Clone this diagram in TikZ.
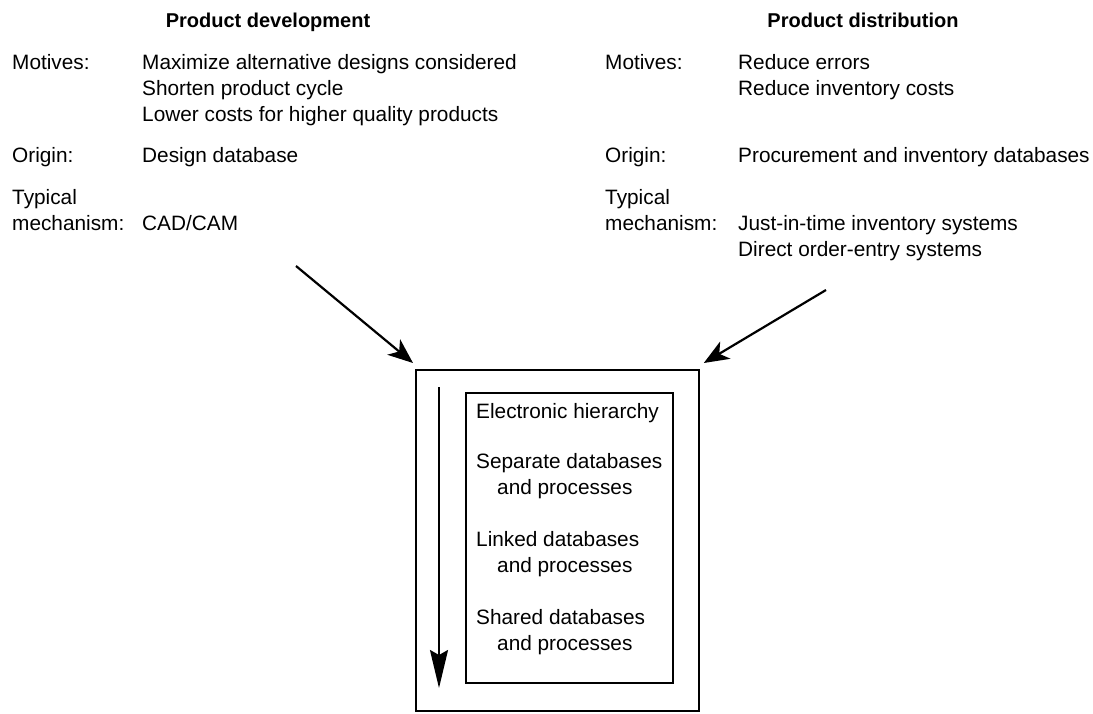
\documentclass[tikz,border=0pt]{standalone}
\usepackage{fontspec}
\setmainfont{Liberation Sans}
\usetikzlibrary{arrows.meta}
\begin{document}
\begin{tikzpicture}[x=1pt,y=-1pt,
  txt/.style={anchor=base west,inner sep=0pt,font=\fontsize{20.8}{25}\selectfont},
  head/.style={anchor=base,inner sep=0pt,font=\fontsize{20}{24}\selectfont\bfseries},
  frame/.style={draw,line width=1.8pt,inner sep=0pt,anchor=north west},
  arr/.style={line width=2.2pt,-{Stealth[length=25pt,width=20pt,inset=7pt]}},
  downarr/.style={line width=2.2pt,-{Stealth[length=38pt,width=18pt,inset=5pt]}}]
\useasboundingbox (0,0) rectangle (1093,714);
% headings
\node[head] (h1) at (268,28) {Product development};
\node[head] (h2) at (863,28) {Product distribution};
% left column
\node[txt] (lm) at (12,70) {Motives:};
\node[txt] (lm1) at (142,70) {Maximize alternative designs considered};
\node[txt] (lm2) at (142,96) {Shorten product cycle};
\node[txt] (lm3) at (142,122) {Lower costs for higher quality products};
\node[txt] (lo) at (12,163) {Origin:};
\node[txt] (lo1) at (142,163) {Design database};
\node[txt] (lt) at (12,205) {Typical};
\node[txt] (ltm) at (12,231) {mechanism:};
\node[txt] (lt1) at (142,231) {CAD/CAM};
% right column
\node[txt] (rm) at (605,70) {Motives:};
\node[txt] (rm1) at (738,70) {Reduce errors};
\node[txt] (rm2) at (738,96) {Reduce inventory costs};
\node[txt] (ro) at (605,163) {Origin:};
\node[txt] (ro1) at (738,163) {Procurement and inventory databases};
\node[txt] (rt) at (605,205) {Typical};
\node[txt] (rtm) at (605,231) {mechanism:};
\node[txt] (rt1) at (738,231) {Just-in-time inventory systems};
\node[txt] (rt2) at (738,257) {Direct order-entry systems};
% boxes
\node[frame,minimum width=283pt,minimum height=341pt] (outer) at (415,369) {};
\node[frame,minimum width=207pt,minimum height=290pt] (inner) at (465,392) {};
% inner text
\node[txt] (e1) at (476,418) {Electronic hierarchy};
\node[txt] (e2) at (476,468) {Separate databases};
\node[txt] (e2b) at (497,494) {and processes};
\node[txt] (e3) at (476,546) {Linked databases};
\node[txt] (e3b) at (497,572) {and processes};
\node[txt] (e4) at (476,624) {Shared databases};
\node[txt] (e4b) at (497,650) {and processes};
% arrows
\coordinate (a1) at (296,266);
\coordinate (a2) at (826,290);
\draw[arr] (a1) -- ([shift={(-2,-6)}]outer.north west);
\draw[arr] (a2) -- ([shift={(4,-6)}]outer.north east);
\coordinate (v1) at (439,387);
\coordinate (v2) at (439,688);
\draw[downarr] (v1) -- (v2);
\end{tikzpicture}
\end{document}
